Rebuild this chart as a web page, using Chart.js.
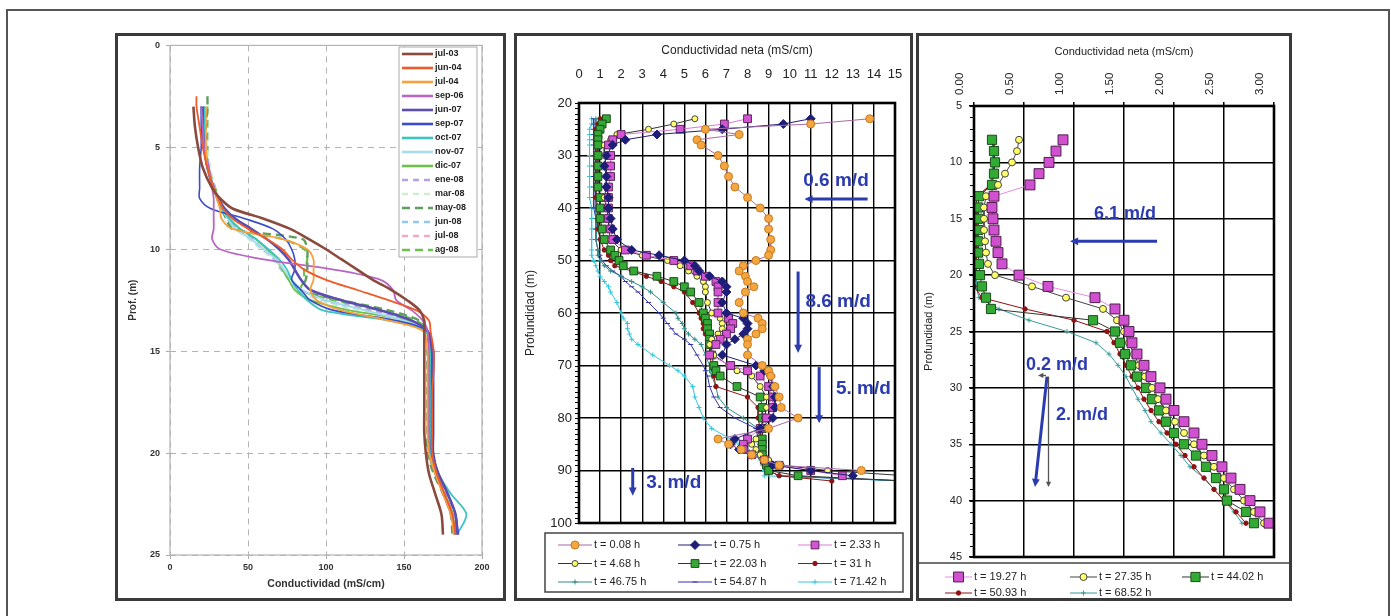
<!DOCTYPE html>
<html>
<head>
<meta charset="utf-8">
<script src="https://cdn.jsdelivr.net/npm/chart.js@4.4.1/dist/chart.umd.min.js"></script>
<style>
  body { margin: 0; background: #fff; width: 1391px; height: 616px; overflow: hidden; position: relative; }
  .frame { position: absolute; left: 6px; top: 9px; width: 1380px; height: 620px; border: 2px solid #555; border-bottom: none; }
  .panel { position: absolute; top: 33px; height: 568px; border: 3px solid #3a3a3a; box-sizing: border-box; pointer-events: none; }
  canvas { position: absolute; top: 34px; }
</style>
</head>
<body>
<div class="frame"></div>
<canvas id="c1" width="389" height="566" style="left:116px"></canvas>
<canvas id="c2" width="397" height="566" style="left:515px"></canvas>
<canvas id="c3" width="374" height="566" style="left:917px"></canvas>
<div class="panel" style="left:115px;width:391px"></div>
<div class="panel" style="left:514px;width:399px"></div>
<div class="panel" style="left:916px;width:376px"></div>

<script>
// ===========================
// Data - left panel (profiles by campaign)
// ===========================
const depthL = [2.5, 3, 4, 5, 6, 7, 7.5, 8, 8.5, 9, 9.5, 10, 10.5, 11, 11.5, 12, 12.5, 13, 13.5, 14, 15, 16, 17, 18, 19, 20, 21, 22, 23, 24];
const labelsL = ['jul-03', 'jun-04', 'jul-04', 'sep-06', 'jun-07', 'sep-07', 'oct-07', 'nov-07', 'dic-07', 'ene-08', 'mar-08', 'may-08', 'jun-08', 'jul-08', 'ag-08'];
const jul03 = [null, 15, 16, 18, 21, 27, 32, 40, 60, 77, 89, 100, 110, 120, 130, 142, 152, 160, 163, 163, 163, 163, 163, 163, 163, 164, 166, 170, 174, 175];
const jun04 = [17, 17, 19, 21, 24, 28, 31, 34, 40, 50, 62, 72, 78, 86, 100, 120, 140, 158, 166, 167, 169, 169, 168, 168, 168, 168, 171, 176, 181, 183];
const jul04 = [null, 23, 23, 23, 24, 28, 30, 32, 33, 40, 72, 88, 92, 92, 92, 90, 94, 110, 140, 162, 165, 165, 165, 165, 165, 166, 170, 175, 180, 182];
const sep06 = [null, 20, 21, 22, 25, 27, 28, 28, 28, 28, 27, 32, 60, 105, 135, 143, 145, 155, 162, 165, 166, 166, 166, 166, 166, 166, 170, 175, 180, 183];
const jun07 = [null, 21, 21, 22, 24, 28, 31, 35, 42, 52, 62, 70, 76, 80, 84, 90, 110, 135, 155, 165, 168, 168, 168, 168, 168, 168, 172, 178, 183, 184];
const sep07 = [null, 20, 20, 20, 19, 19, 19, 26, 48, 66, 74, 78, 80, 80, 78, 84, 90, 105, 145, 165, 169, 169, 169, 169, 169, 169, 172, 178, 183, 185];
const oct07 = [null, 22, 22, 22, 24, 28, 30, 33, 38, 45, 55, 63, 70, 75, 78, 82, 88, 98, 140, 164, 167, 167, 167, 167, 167, 167, 172, 180, 190, 184];
const nov07 = [null, 22, 22, 23, 25, 28, 30, 33, 37, 42, 52, 60, 68, 73, 78, 85, 100, 125, 150, 165, 168, 168, 168, 168, 168, 168, 172, 178, 183, 184];
const dic07 = [null, 20, 21, 22, 24, 28, 31, 34, 38, 45, 55, 62, 68, 72, 76, 80, 90, 115, 152, 164, 166, 166, 166, 166, 166, 166, 170, 176, 181, 183];
const ene08 = [null, 22, 22, 23, 25, 29, 31, 34, 38, 43, 53, 60, 67, 72, 78, 84, 100, 130, 155, 165, 167, 167, 167, 167, 167, 167, 171, 177, 182, 183];
const mar08 = [null, 23, 23, 24, 26, 29, 31, 34, 38, 42, 50, 58, 66, 72, 77, 83, 95, 120, 148, 164, 167, 167, 167, 167, 167, 167, 171, 177, 182, 184];
const may08 = [24, 24, 23, 23, 24, 28, 30, 33, 36, 40, 85, 88, 88, 88, 87, 84, 110, 140, 160, 165, 165, 165, 165, 165, 165, 165, 169, 175, 180, 181];
const jun08 = [null, 22, 22, 23, 25, 28, 30, 33, 37, 42, 51, 59, 66, 71, 76, 82, 96, 125, 152, 165, 168, 168, 168, 168, 168, 168, 172, 178, 183, 184];
const jul08 = [null, 23, 23, 23, 25, 28, 31, 34, 38, 43, 52, 60, 67, 72, 77, 84, 100, 128, 153, 165, 168, 168, 168, 168, 168, 168, 172, 178, 182, 183];
const ag08 = [null, 24, 24, 24, 25, 29, 31, 34, 37, 42, 72, 86, 88, 86, 86, 84, 105, 135, 158, 165, 166, 166, 166, 166, 166, 166, 170, 176, 181, 182];

// ===========================
// Data - middle panel (net conductivity, early test)
// ===========================
const depthM = [23, 24, 25, 26, 27, 28, 30, 32, 34, 36, 38, 40, 42, 44, 46, 48, 49, 50, 51, 52, 53, 54, 55, 56, 58, 60, 61, 62, 63, 64, 65, 66, 68, 70, 71, 72, 74, 76, 78, 80, 82, 84, 85, 86, 87, 88, 89, 90, 91, 92];
const labelsM = ['t = 0.08 h', 't = 0.75 h', 't = 2.33 h', 't = 4.68 h', 't = 22.03 h', 't = 31 h', 't = 46.75 h', 't = 54.87 h', 't = 71.42 h'];
const m008 = [13.8, 11.0, 6.0, 7.6, 5.6, 5.8, 6.6, 6.9, 7.1, 7.4, 8.0, 8.6, 9.0, 9.0, 9.1, 9.1, 9.0, 8.4, 7.8, 7.6, 7.9, 8.0, 8.3, 7.9, 7.6, 7.8, 8.5, 8.7, 8.7, 8.4, 8.0, 8.0, 8.0, 8.7, 9.0, 9.1, 9.3, 9.5, 9.6, 10.4, 9.0, 6.6, 7.1, 7.7, 8.2, 8.8, 9.5, 13.4, null, null];
const m075 = [11.0, 9.7, 6.8, 3.7, 2.2, 1.6, 1.3, 1.2, 1.3, 1.3, 1.4, 1.4, 1.5, 1.6, 1.8, 2.5, 3.8, 5.0, 5.5, 5.7, 6.2, 6.8, 7.0, 7.0, 6.8, 7.0, 7.8, 8.0, 8.0, 7.8, 7.4, 7.0, 6.8, 8.4, 8.8, 9.1, 9.2, 9.3, 9.3, 9.2, 8.6, 7.4, 7.2, 7.6, 8.2, 8.8, 9.2, 11.0, 13.0, null];
const m233 = [8.0, 6.9, 4.8, 2.0, 1.6, 1.4, 1.5, 1.5, 1.5, 1.4, 1.4, 1.4, 1.4, 1.5, 1.6, 2.2, 3.2, 4.5, 5.3, 5.6, 6.0, 6.5, 6.6, 6.6, 6.6, 6.6, 7.1, 7.3, 7.2, 7.0, 6.7, 6.5, 6.2, 7.2, 8.0, 8.6, 9.0, 9.2, 9.2, 8.9, 8.6, 8.0, 7.8, 7.8, 8.2, 8.8, 9.5, 11.0, 12.5, null];
const m468 = [5.5, 4.5, 3.3, 1.8, 1.5, 1.2, 1.2, 1.3, 1.3, 1.3, 1.2, 1.3, 1.4, 1.4, 1.5, 2.0, 3.0, 4.2, 4.8, 5.2, 5.6, 5.9, 6.0, 6.0, 6.1, 6.3, 6.7, 6.8, 6.8, 6.6, 6.3, 6.2, 6.4, 7.1, 7.5, 8.2, 8.6, 8.9, 8.9, 8.8, 8.6, 8.4, 8.2, 8.4, 8.6, 9.0, 9.6, 11.8, 15.5, null];
const m2203 = [1.3, 1.1, 1.0, 0.9, 0.9, 0.9, 0.9, 0.9, 0.9, 0.9, 1.0, 1.0, 1.0, 1.1, 1.2, 1.5, 1.7, 1.9, 2.1, 2.6, 3.7, 4.5, 5.0, 5.3, 5.7, 5.9, 6.0, 6.1, 6.1, 6.2, 6.2, 6.2, 6.3, 6.4, 6.5, 6.7, 7.5, 8.6, 8.7, 8.7, 8.7, 8.7, 8.7, 8.7, 8.7, 8.8, 8.9, 9.0, 10.4, 15.5];
const m31 = [1.0, 0.9, 0.8, 0.8, 0.8, 0.8, 0.8, 0.8, 0.8, 0.8, 0.8, 0.9, 0.9, 0.9, 1.0, 1.2, 1.4, 1.5, 1.7, 2.5, 3.2, 3.9, 4.5, 5.0, 5.4, 5.7, 5.8, 5.9, 5.9, 6.0, 6.1, 6.2, 6.2, 6.3, 6.4, 6.4, 6.5, 8.0, 8.5, 8.5, 8.6, 8.6, 8.6, 8.6, 8.7, 8.7, 8.8, 9.0, 9.5, 12.0];
const m4675 = [0.8, 0.8, 0.8, 0.8, 0.8, 0.8, 0.8, 0.8, 0.8, 0.8, 0.8, 0.8, 0.8, 0.8, 0.8, 0.9, 0.9, 1.0, 1.2, 1.5, 2.0, 2.5, 3.0, 3.4, 4.0, 4.6, 4.7, 4.9, 5.0, 5.2, 5.5, 5.8, 6.0, 6.2, 6.2, 6.3, 6.5, 6.6, 7.0, 7.8, 8.5, 8.6, 8.6, 8.7, 8.8, 8.8, 8.9, 9.0, 9.5, 15.5];
const m5487 = [0.7, 0.7, 0.7, 0.7, 0.7, 0.7, 0.7, 0.7, 0.7, 0.7, 0.7, 0.7, 0.8, 0.8, 0.8, 0.9, 1.0, 1.1, 1.3, 1.6, 2.0, 2.2, 2.5, 2.8, 3.3, 3.8, 4.0, 4.2, 4.4, 4.6, 5.0, 5.3, 5.6, 5.9, 6.0, 6.1, 6.2, 6.4, 6.7, 7.4, 8.4, 8.5, 8.6, 8.7, 8.8, 8.8, 8.9, 9.0, 9.5, 15.5];
const m7142 = [0.6, 0.6, 0.5, 0.5, 0.5, 0.5, 0.5, 0.5, 0.5, 0.5, 0.5, 0.6, 0.6, 0.6, 0.6, 0.6, 0.6, 0.7, 0.8, 0.9, 1.0, 1.2, 1.4, 1.5, 1.8, 2.0, 2.1, 2.3, 2.3, 2.4, 2.5, 2.8, 3.5, 4.3, 4.7, 5.0, 5.4, 5.5, 5.7, 5.9, 6.3, 7.2, 7.6, 8.0, 8.4, 8.6, 8.7, 8.8, 8.8, 15.5];

// ===========================
// Data - right panel (net conductivity, later test)
// ===========================
const depthR = [8, 9, 10, 11, 12, 13, 14, 15, 16, 17, 18, 19, 20, 21, 22, 23, 24, 25, 26, 27, 28, 29, 30, 31, 32, 33, 34, 35, 36, 37, 38, 39, 40, 41, 42];
const labelsR = ['t = 19.27 h', 't = 27.35 h', 't = 44.02 h', 't = 50.93 h', 't = 68.52 h'];
const r1927 = [0.89, 0.82, 0.75, 0.65, 0.56, 0.20, 0.18, 0.19, 0.20, 0.22, 0.24, 0.28, 0.45, 0.74, 1.21, 1.41, 1.50, 1.55, 1.58, 1.63, 1.70, 1.77, 1.86, 1.92, 2.00, 2.10, 2.20, 2.28, 2.38, 2.48, 2.57, 2.66, 2.76, 2.86, 2.95];
const r2735 = [0.45, 0.43, 0.38, 0.31, 0.24, 0.12, 0.10, 0.10, 0.10, 0.11, 0.12, 0.14, 0.21, 0.58, 0.92, 1.29, 1.43, 1.50, 1.55, 1.60, 1.65, 1.71, 1.78, 1.84, 1.92, 2.01, 2.10, 2.20, 2.30, 2.40, 2.50, 2.60, 2.70, 2.80, 2.90];
const r4402 = [0.18, 0.20, 0.21, 0.20, 0.18, 0.05, 0.04, 0.04, 0.04, 0.04, 0.04, 0.05, 0.06, 0.08, 0.12, 0.17, 1.19, 1.41, 1.46, 1.51, 1.57, 1.63, 1.72, 1.78, 1.85, 1.92, 2.00, 2.10, 2.22, 2.32, 2.42, 2.50, 2.53, 2.72, 2.80];
const r5093 = [0.20, 0.20, 0.20, 0.19, 0.17, 0.03, 0.02, 0.02, 0.02, 0.02, 0.02, 0.02, 0.02, 0.00, 0.08, 0.51, 1.00, 1.33, 1.40, 1.46, 1.52, 1.58, 1.64, 1.70, 1.77, 1.85, 1.93, 2.02, 2.11, 2.20, 2.30, 2.40, 2.50, 2.62, 2.72];
const r6852 = [0.18, 0.19, 0.19, 0.18, 0.16, 0.03, 0.02, 0.02, 0.02, 0.02, 0.02, 0.02, 0.02, 0.02, 0.05, 0.25, 0.55, 0.93, 1.22, 1.35, 1.44, 1.52, 1.58, 1.64, 1.71, 1.77, 1.87, 1.97, 2.07, 2.16, 2.30, 2.40, 2.50, 2.60, 2.68];

// Flow annotations: [text, conductivity, depth] and arrows [x1, d1, x2, d2]
const notesM = [['0.6 m/d', 12.2, 34.8], ['8.6 m/d', 12.3, 57.9], ['5. m/d', 13.5, 74.5], ['3. m/d', 4.5, 92.4]];
const arrowsM = [[13.7, 38.3, 10.7, 38.3], [10.4, 52.1, 10.4, 67.6], [11.4, 70.3, 11.4, 81], [2.55, 89.5, 2.55, 94.8]];
const notesR = [['6.1 m/d', 1.51, 14.6], ['0.2 m/d', 0.83, 28.0], ['2. m/d', 1.08, 32.4]];
const arrowsR = [[1.83, 17, 0.96, 17], [0.73, 29, 0.61, 38.8]];
const arrowsRGray = [[0.745, 29, 0.745, 38.8], [0.72, 28.9, 0.64, 28.9]];

// ===========================
// Styles
// ===========================
const FONT = '"Liberation Sans", Arial, Helvetica, sans-serif';
Chart.defaults.font.family = FONT;
Chart.defaults.color = '#222';
Chart.defaults.animation = false;

const styleL = [
  ['#8B4A3E', 2.6, []], ['#EE5A2A', 1.8, []], ['#F7A03C', 1.8, []], ['#B865C4', 1.8, []],
  ['#5A4FB0', 2.6, []], ['#3A4CC8', 1.6, []], ['#3CC4C0', 1.8, []], ['#A8DCEC', 2, []],
  ['#6CC24A', 1.8, []], ['#B8A0E6', 1.6, [6, 5]], ['#D2ECD2', 1.6, [6, 5]], ['#5E9E5E', 2.4, [8, 5]],
  ['#90C8F4', 1.6, [6, 5]], ['#F4A8C8', 1.6, [6, 5]], ['#6CC04C', 2.2, [8, 5]]
];
const styleM = [
  ['circle', 4, '#F4A640', '#C77A1E', '#A86BA8'],
  ['rectRot', 4.5, '#1E1E78', '#1E1E78', '#1E1E78'],
  ['rect', 5.5, '#D455D4', '#5C235C', '#D97AD9'],
  ['circle', 3, '#FFFF66', '#444', '#333'],
  ['rect', 5.5, '#35A935', '#1B4D1B', '#333'],
  ['circle', 2.2, '#8E1414', '#8E1414', '#8E1414'],
  ['cross', 2.5, '#2E8B86', '#2E8B86', '#2E8B86'],
  ['line', 2.5, '#3434A8', '#3434A8', '#3434A8'],
  ['cross', 2.5, '#35C8DC', '#35C8DC', '#35C8DC']
];
const styleR = [
  ['rect', 7, '#D050D0', '#4E1E4E', '#E38BE3'],
  ['circle', 3.5, '#FFFF66', '#444', '#444'],
  ['rect', 6.5, '#33AA33', '#1B4D1B', '#333'],
  ['circle', 2.2, '#8E1010', '#8E1010', '#8E1010'],
  ['cross', 2.5, '#3A9C98', '#3A9C98', '#3A9C98']
];
const BLUE = '#2B3BB0';

function pts(depths, vals) {
  const out = [];
  depths.forEach((d, i) => { if (vals[i] != null) out.push({ x: vals[i], y: d }); });
  return out;
}

function markerDs(label, depths, vals, s) {
  return {
    label, data: pts(depths, vals), showLine: true, tension: 0,
    borderColor: s[4], borderWidth: 1,
    pointStyle: s[0], pointRadius: s[1], pointBackgroundColor: s[2],
    pointBorderColor: s[3], pointBorderWidth: 1
  };
}

// Own marker drawer, used for the legends
function drawMarker(ctx, style, r, x, y) {
  ctx.beginPath();
  if (style === 'circle') {
    ctx.arc(x, y, r, 0, Math.PI * 2); ctx.fill(); ctx.stroke();
  } else if (style === 'rect') {
    const s = r * Math.SQRT1_2;
    ctx.rect(x - s, y - s, 2 * s, 2 * s); ctx.fill(); ctx.stroke();
  } else if (style === 'rectRot') {
    ctx.moveTo(x, y - r); ctx.lineTo(x + r, y); ctx.lineTo(x, y + r); ctx.lineTo(x - r, y);
    ctx.closePath(); ctx.fill(); ctx.stroke();
  } else if (style === 'cross') {
    ctx.moveTo(x - r, y); ctx.lineTo(x + r, y); ctx.moveTo(x, y - r); ctx.lineTo(x, y + r); ctx.stroke();
  } else if (style === 'line') {
    ctx.moveTo(x - r, y); ctx.lineTo(x + r, y); ctx.stroke();
  }
}

function arrow(ctx, x1, y1, x2, y2, color, w, head) {
  const ang = Math.atan2(y2 - y1, x2 - x1);
  ctx.strokeStyle = color; ctx.fillStyle = color; ctx.lineWidth = w;
  ctx.beginPath();
  ctx.moveTo(x1, y1);
  ctx.lineTo(x2 - Math.cos(ang) * head * 0.8, y2 - Math.sin(ang) * head * 0.8);
  ctx.stroke();
  ctx.beginPath();
  ctx.moveTo(x2, y2);
  ctx.lineTo(x2 - head * Math.cos(ang - 0.45), y2 - head * Math.sin(ang - 0.45));
  ctx.lineTo(x2 - head * Math.cos(ang + 0.45), y2 - head * Math.sin(ang + 0.45));
  ctx.closePath(); ctx.fill();
}

/**
 * Frame, minor ticks, flow notes and a boxed legend for one chart.
 */
function deco(cfg) {
  return {
    id: 'deco',
    afterDatasetsDraw(chart) {
      const { ctx, chartArea: a, scales: { x, y } } = chart;
      ctx.save();
      ctx.strokeStyle = cfg.frameColor; ctx.lineWidth = cfg.frameWidth;
      ctx.strokeRect(a.left, a.top, a.right - a.left, a.bottom - a.top);
      if (cfg.minor) {
        ctx.lineWidth = 1; ctx.strokeStyle = '#000';
        for (let v = y.min; v <= y.max; v += cfg.minor) {
          const py = Math.round(y.getPixelForValue(v)) + 0.5;
          ctx.beginPath(); ctx.moveTo(a.left - 4, py); ctx.lineTo(a.left, py); ctx.stroke();
        }
      }
      (cfg.arrows || []).forEach(([x1, d1, x2, d2]) =>
        arrow(ctx, x.getPixelForValue(x1), y.getPixelForValue(d1), x.getPixelForValue(x2), y.getPixelForValue(d2), BLUE, 3, 9));
      (cfg.grayArrows || []).forEach(([x1, d1, x2, d2]) =>
        arrow(ctx, x.getPixelForValue(x1), y.getPixelForValue(d1), x.getPixelForValue(x2), y.getPixelForValue(d2), '#555', 1.3, 6));
      ctx.fillStyle = BLUE; ctx.font = cfg.noteFont;
      ctx.textAlign = 'center'; ctx.textBaseline = 'middle';
      (cfg.notes || []).forEach(([t, vx, vy]) => ctx.fillText(t, x.getPixelForValue(vx), y.getPixelForValue(vy)));
      ctx.restore();
    },
    afterDraw(chart) {
      const L = cfg.legend, ctx = chart.ctx;
      ctx.save();
      ctx.fillStyle = '#fff'; ctx.fillRect(L.x, L.y, L.w, L.h);
      ctx.strokeStyle = L.border; ctx.lineWidth = L.borderWidth;
      ctx.strokeRect(L.x, L.y, L.w, L.h);
      ctx.font = L.font; ctx.textBaseline = 'middle'; ctx.textAlign = 'left';
      chart.data.datasets.forEach((ds, i) => {
        const col = i % L.colX.length, row = Math.floor(i / L.colX.length);
        const lx = L.colX[col], ly = L.firstY + row * L.rowH;
        ctx.setLineDash(ds.borderDash || []);
        ctx.strokeStyle = ds.borderColor; ctx.lineWidth = Math.max(ds.borderWidth, L.minLine || 0);
        ctx.beginPath(); ctx.moveTo(lx, ly); ctx.lineTo(lx + L.lineLen, ly); ctx.stroke();
        ctx.setLineDash([]);
        if (ds.pointRadius > 0) {
          ctx.fillStyle = ds.pointBackgroundColor; ctx.strokeStyle = ds.pointBorderColor; ctx.lineWidth = 1;
          drawMarker(ctx, ds.pointStyle, ds.pointRadius, lx + L.lineLen / 2, ly);
        }
        ctx.fillStyle = '#222';
        ctx.fillText(ds.label, lx + L.lineLen + 2, ly);
      });
      ctx.restore();
    }
  };
}

// ===========================
// Left chart
// ===========================
const seriesL = [jul03, jun04, jul04, sep06, jun07, sep07, oct07, nov07, dic07, ene08, mar08, may08, jun08, jul08, ag08];
new Chart(document.getElementById('c1'), {
  type: 'scatter',
  data: {
    datasets: seriesL.map((vals, i) => ({
      label: labelsL[i], data: pts(depthL, vals), showLine: true, tension: 0.3,
      borderColor: styleL[i][0], borderWidth: styleL[i][1], borderDash: styleL[i][2], pointRadius: 0
    }))
  },
  options: {
    responsive: false, events: [],
    layout: { padding: { left: 0, top: 9, right: 23, bottom: 0 } },
    plugins: { legend: { display: false }, tooltip: { enabled: false } },
    scales: {
      x: {
        type: 'linear', min: 0, max: 200,
        afterFit: (s) => { s.height = 45; },
        ticks: { stepSize: 50, padding: 3, font: { size: 9, weight: 'bold' }, color: '#333' },
        grid: { color: '#b3b3b3', lineWidth: 1, tickLength: 4, tickColor: '#aaa' },
        border: { display: false, dash: [6, 5] },
        title: { display: true, text: 'Conductividad (mS/cm)', font: { size: 10.5, weight: 'bold' }, color: '#333', padding: 10 }
      },
      y: {
        type: 'linear', min: 0, max: 25, reverse: true,
        afterFit: (s) => { s.width = 54; },
        ticks: { stepSize: 5, padding: 6, font: { size: 9, weight: 'bold' }, color: '#333' },
        grid: { color: '#b3b3b3', lineWidth: 1, tickLength: 4, tickColor: '#aaa' },
        border: { display: false, dash: [6, 5] },
        title: { display: true, text: 'Prof. (m)', font: { size: 10, weight: 'bold' }, color: '#333', padding: 11 }
      }
    }
  },
  plugins: [deco({
    frameColor: '#b3b3b3', frameWidth: 1.2,
    legend: { x: 283, y: 13, w: 78, h: 210, border: '#aaa', borderWidth: 1, font: 'bold 9px ' + FONT,
      colX: [286], firstY: 20, rowH: 14, lineLen: 31, minLine: 2.6 }
  })]
});

// ===========================
// Middle chart
// ===========================
const seriesM = [m008, m075, m233, m468, m2203, m31, m4675, m5487, m7142];
new Chart(document.getElementById('c2'), {
  type: 'scatter',
  data: { datasets: seriesM.map((vals, i) => markerDs(labelsM[i], depthM, vals, styleM[i])) },
  options: {
    responsive: false, events: [],
    layout: { padding: { left: 0, top: 0, right: 17, bottom: 77 } },
    plugins: { legend: { display: false }, tooltip: { enabled: false } },
    scales: {
      x: {
        type: 'linear', position: 'top', min: 0, max: 15,
        afterFit: (s) => { s.height = 69; },
        ticks: { stepSize: 1, autoSkip: false, padding: 3, font: { size: 13 }, color: '#222' },
        grid: { color: '#000', lineWidth: 1.4, drawTicks: true, tickLength: 18, tickColor: 'rgba(0,0,0,0)' },
        border: { display: false },
        title: { display: true, text: 'Conductividad neta (mS/cm)', font: { size: 12 }, color: '#222', padding: { top: 9, bottom: 2 } }
      },
      y: {
        type: 'linear', min: 20, max: 100, reverse: true,
        afterFit: (s) => { s.width = 64; },
        ticks: { stepSize: 10, padding: 7, font: { size: 13 }, color: '#222' },
        grid: { color: '#000', lineWidth: 1.4, drawTicks: false },
        border: { display: false },
        title: { display: true, text: 'Profundidad (m)', font: { size: 12 }, color: '#222', padding: { top: 8, bottom: 4 } }
      }
    }
  },
  plugins: [deco({
    frameColor: '#000', frameWidth: 2.6, minor: 1,
    arrows: arrowsM, notes: notesM, noteFont: 'bold 19px ' + FONT,
    legend: { x: 30, y: 499, w: 358, h: 59, border: '#444', borderWidth: 1.5, font: '11px ' + FONT,
      colX: [43, 163, 283], firstY: 511, rowH: 18.5, lineLen: 34 }
  })]
});

// ===========================
// Right chart
// ===========================
const seriesR = [r1927, r2735, r4402, r5093, r6852];
new Chart(document.getElementById('c3'), {
  type: 'scatter',
  data: { datasets: seriesR.map((vals, i) => markerDs(labelsR[i], depthR, vals, styleR[i])) },
  options: {
    responsive: false, events: [],
    layout: { padding: { left: 0, top: 0, right: 17, bottom: 43 } },
    plugins: { legend: { display: false }, tooltip: { enabled: false } },
    scales: {
      x: {
        type: 'linear', position: 'top', min: 0, max: 3,
        afterFit: (s) => { s.height = 72; },
        ticks: { stepSize: 0.5, autoSkip: false, minRotation: 90, maxRotation: 90, padding: 7,
          font: { size: 11.5 }, color: '#222', callback: (v) => v.toFixed(2) },
        grid: { color: '#000', lineWidth: 1.5, tickLength: 4, tickColor: '#000' },
        border: { display: false },
        title: { display: true, text: 'Conductividad neta (mS/cm)', font: { size: 11 }, color: '#222', padding: { top: 11, bottom: 2 } }
      },
      y: {
        type: 'linear', min: 5, max: 45, reverse: true,
        afterFit: (s) => { s.width = 57; },
        ticks: { stepSize: 5, padding: 7, font: { size: 11 }, color: '#222' },
        grid: { color: '#000', lineWidth: 1.5, tickLength: 5, tickColor: '#000' },
        border: { display: false },
        title: { display: true, text: 'Profundidad (m)', font: { size: 11 }, color: '#222', padding: { top: 5, bottom: 2 } }
      }
    }
  },
  plugins: [deco({
    frameColor: '#000', frameWidth: 2.6, minor: 1,
    arrows: arrowsR, grayArrows: arrowsRGray, notes: notesR, noteFont: 'bold 18px ' + FONT,
    legend: { x: 0, y: 529, w: 374, h: 37, border: '#444', borderWidth: 1.5, font: '11px ' + FONT,
      colX: [28, 153, 265], firstY: 543, rowH: 16, lineLen: 27 }
  })]
});
</script>
</body>
</html>
